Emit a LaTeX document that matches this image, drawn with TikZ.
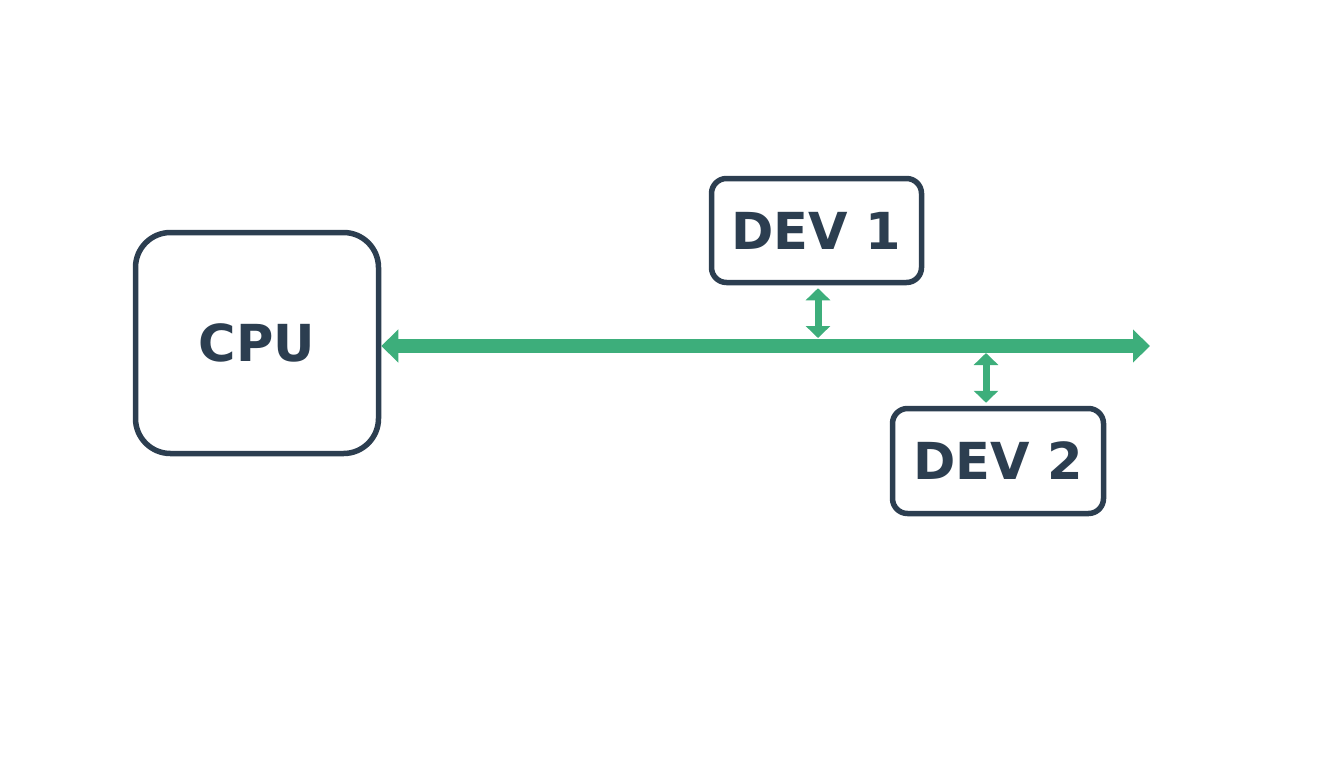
\documentclass[tikz,border=0pt]{standalone}
\usepackage{fontspec}
\setmainfont{DejaVu Sans}
\usetikzlibrary{arrows.meta}
\definecolor{navy}{HTML}{2C3E50}
\definecolor{busgreen}{HTML}{3DAE7B}
\tikzset{
  box/.style={draw=navy, line width=5.5pt, fill=white, inner sep=0pt, text=navy,
    font=\fontsize{51}{58}\selectfont\bfseries},
  bus/.style={draw=busgreen, line width=14pt, {Triangle[length=17pt,width=32pt]}-{Triangle[length=17pt,width=32pt]}},
  link/.style={draw=busgreen, line width=7pt, {Triangle[length=12pt,width=24pt]}-{Triangle[length=12pt,width=24pt]}}
}
\begin{document}
\begin{tikzpicture}[x=1pt,y=-1pt]
\useasboundingbox (0,0) rectangle (1337,758);
\node[box, minimum width=243pt, minimum height=221pt, rounded corners=35pt] (cpu) at (257,343) {CPU};
\node[box, minimum width=210pt, minimum height=104pt, rounded corners=15pt] (dev1) at (816.5,230.5) {DEV 1};
\node[box, minimum width=211pt, minimum height=105pt, rounded corners=15pt] (dev2) at (998,461) {DEV 2};
\coordinate (busend) at (1150,346);
\coordinate (b1) at (818,338);
\coordinate (b2) at (986,353);
\draw[bus] (cpu.east |- busend) -- (busend);
\draw[link] ([yshift=-3pt]dev1.south -| b1) -- (b1);
\draw[link] (b2) -- ([yshift=3pt]dev2.north -| b2);
\end{tikzpicture}
\end{document}
